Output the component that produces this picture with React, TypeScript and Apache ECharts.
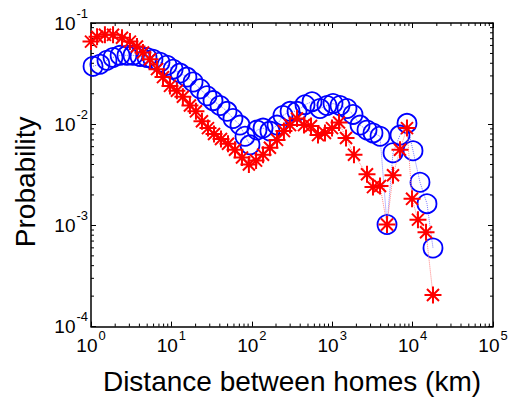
import React, { useEffect, useRef } from "react";
import * as echarts from "echarts";

// Blue circles series (distance km, probability)
const blueX = [1.06, 1.29, 1.58, 1.88, 2.3, 2.8, 3.33, 4.07, 4.97, 5.9, 7.21, 8.82, 10.5, 12.8, 15.6, 18.6, 22.7, 27.7, 32.9, 40.2, 49.2, 58.3, 71.3, 82.3, 95, 116, 138, 168, 206, 244, 299, 365, 459, 561, 705, 861, 1023, 1250, 1528, 1815, 2218, 2710, 3216, 3933, 4806, 5704, 6970, 8515, 10120, 12360, 15100, 17930];
const blueY = [0.0374, 0.0391, 0.0428, 0.0457, 0.0479, 0.0479, 0.0479, 0.0468, 0.0457, 0.0438, 0.0409, 0.0383, 0.035, 0.032, 0.0292, 0.0261, 0.0224, 0.0191, 0.0171, 0.0153, 0.0134, 0.0114, 0.0098, 0.0076, 0.00625, 0.00875, 0.00915, 0.00855, 0.0098, 0.0122, 0.0134, 0.0134, 0.0156, 0.0167, 0.0143, 0.0153, 0.016, 0.0153, 0.0143, 0.0125, 0.0098, 0.00875, 0.0082, 0.0076, 0.00102, 0.00522, 0.0078, 0.0102, 0.00547, 0.00267, 0.00164, 0.000598];

// Red asterisks series
const redX = [1.0, 1.19, 1.49, 1.88, 2.43, 3.05, 3.73, 4.43, 5.42, 6.62, 7.86, 9.6, 11.7, 13.9, 17.0, 20.2, 24.0, 28.5, 33.9, 41.4, 50.6, 61.8, 75.5, 92, 113, 138, 168, 206, 251, 299, 365, 446, 545, 666, 813, 995, 1216, 1486, 1866, 2710, 3216, 3933, 4806, 5704, 6970, 8515, 9840, 11660, 14690, 17930];
const redY = [0.0655, 0.0731, 0.0764, 0.0764, 0.0715, 0.0655, 0.0585, 0.0511, 0.0438, 0.035, 0.0292, 0.0239, 0.0214, 0.0187, 0.0153, 0.0134, 0.0107, 0.00915, 0.008, 0.00715, 0.0064, 0.0056, 0.00468, 0.004, 0.00437, 0.005, 0.00585, 0.007, 0.00855, 0.0098, 0.0114, 0.0098, 0.0096, 0.0078, 0.0082, 0.00915, 0.0104, 0.0073, 0.005, 0.0032, 0.00239, 0.00245, 0.00102, 0.00313, 0.0056, 0.00915, 0.00183, 0.00114, 0.000855, 0.000205];

const X_MIN = 1;
const X_MAX = 100000;
const Y_MIN = 0.0001;
const Y_MAX = 0.1;

const xDecades = [1, 10, 100, 1000, 10000];
const yDecades = [0.0001, 0.001, 0.01];
const minorMultipliers = [2, 3, 4, 5, 6, 7, 8, 9];

const xMinorTicks = xDecades.flatMap((d) => minorMultipliers.map((m) => d * m));
const yMinorTicks = yDecades.flatMap((d) => minorMultipliers.map((m) => d * m));

const FONT = "Liberation Sans, Arial, Helvetica, sans-serif";

const supFormatter = (value: number) => {
  const e = Math.round(Math.log10(value));
  return `{b|10}{s|${e}}`;
};

const richLabel = {
  b: { fontSize: 19, fontFamily: FONT, color: "#000", lineHeight: 22, verticalAlign: "middle" },
  s: { fontSize: 13, fontFamily: FONT, color: "#000", lineHeight: 14, verticalAlign: "middle", padding: [0, 0, 20, 1] },
};

const asteriskPath =
  "path://M0 -10 L0 10 M-10 0 L10 0 M-7.07 -7.07 L7.07 7.07 M-7.07 7.07 L7.07 -7.07";

export default function App() {
  const ref = useRef<HTMLDivElement>(null);

  useEffect(() => {
    if (!ref.current) return;
    const chart = echarts.init(ref.current, undefined, { renderer: "svg" });

    const axisLine = { show: true, lineStyle: { color: "#000", width: 1.5 } };
    const axisTick = { show: true, inside: true, length: 5, lineStyle: { color: "#000", width: 1 } };

    const tickStyle = { stroke: "#000", lineWidth: 1 };

    chart.setOption({
      animation: false,
      backgroundColor: "#fff",
      grid: { left: 91, right: 21, top: 23, bottom: 68, containLabel: false },
      xAxis: [
        {
          type: "log",
          logBase: 10,
          min: X_MIN,
          max: X_MAX,
          splitNumber: 5,
          position: "bottom",
          axisLine,
          axisTick,
          splitLine: { show: false },
          minorTick: { show: false },
          axisLabel: { formatter: supFormatter, rich: richLabel, margin: 8 },
          name: "Distance between homes (km)",
          nameLocation: "middle",
          nameGap: 37,
          nameTextStyle: { fontSize: 28, fontFamily: FONT, color: "#000" },
        },
        {
          type: "log",
          logBase: 10,
          min: X_MIN,
          max: X_MAX,
          splitNumber: 5,
          position: "top",
          axisLine,
          axisTick,
          splitLine: { show: false },
          axisLabel: { show: false },
        },
      ],
      yAxis: [
        {
          type: "log",
          logBase: 10,
          min: Y_MIN,
          max: Y_MAX,
          splitNumber: 3,
          position: "left",
          axisLine,
          axisTick,
          splitLine: { show: false },
          axisLabel: { formatter: supFormatter, rich: richLabel, margin: 3 },
          name: "Probability",
          nameLocation: "middle",
          nameGap: 52,
          nameTextStyle: { fontSize: 28, fontFamily: FONT, color: "#000", padding: [0, 14, 0, 0] },
        },
        {
          type: "log",
          logBase: 10,
          min: Y_MIN,
          max: Y_MAX,
          splitNumber: 3,
          position: "right",
          axisLine,
          axisTick,
          splitLine: { show: false },
          axisLabel: { show: false },
        },
      ],
      series: [
        {
          type: "custom",
          silent: true,
          xAxisIndex: 0,
          yAxisIndex: 0,
          clip: false,
          data: xMinorTicks.map((v) => [v, Y_MIN]),
          renderItem: (_params: any, api: any) => {
            const v = api.value(0);
            const b = api.coord([v, Y_MIN]);
            const t = api.coord([v, Y_MAX]);
            return {
              type: "group",
              children: [
                { type: "line", shape: { x1: b[0], y1: b[1], x2: b[0], y2: b[1] - 3 }, style: tickStyle },
                { type: "line", shape: { x1: t[0], y1: t[1], x2: t[0], y2: t[1] + 3 }, style: tickStyle },
              ],
            };
          },
        },
        {
          type: "custom",
          silent: true,
          xAxisIndex: 0,
          yAxisIndex: 0,
          clip: false,
          data: yMinorTicks.map((v) => [X_MIN, v]),
          renderItem: (_params: any, api: any) => {
            const v = api.value(1);
            const l = api.coord([X_MIN, v]);
            const r = api.coord([X_MAX, v]);
            return {
              type: "group",
              children: [
                { type: "line", shape: { x1: l[0], y1: l[1], x2: l[0] + 3, y2: l[1] }, style: tickStyle },
                { type: "line", shape: { x1: r[0], y1: r[1], x2: r[0] - 3, y2: r[1] }, style: tickStyle },
              ],
            };
          },
        },
        {
          type: "line",
          name: "blue",
          xAxisIndex: 0,
          yAxisIndex: 0,
          data: blueX.map((x, i) => [x, blueY[i]]),
          symbol: "circle",
          symbolSize: 19,
          itemStyle: { color: "none", borderColor: "#0000ff", borderWidth: 1.8 },
          lineStyle: { color: "#7a7aff", width: 1, type: "dotted" },
          z: 3,
        },
        {
          type: "line",
          name: "red",
          xAxisIndex: 0,
          yAxisIndex: 0,
          data: redX.map((x, i) => [x, redY[i]]),
          symbol: asteriskPath,
          symbolSize: 17,
          itemStyle: { color: "none", borderColor: "#ff0000", borderWidth: 2 },
          lineStyle: { color: "#ff8080", width: 1, type: "dotted" },
          z: 4,
        },
      ],
    });

    return () => chart.dispose();
  }, []);

  return <div ref={ref} style={{ position: "absolute", left: 0, top: 0, width: 514, height: 400 }} />;
}
